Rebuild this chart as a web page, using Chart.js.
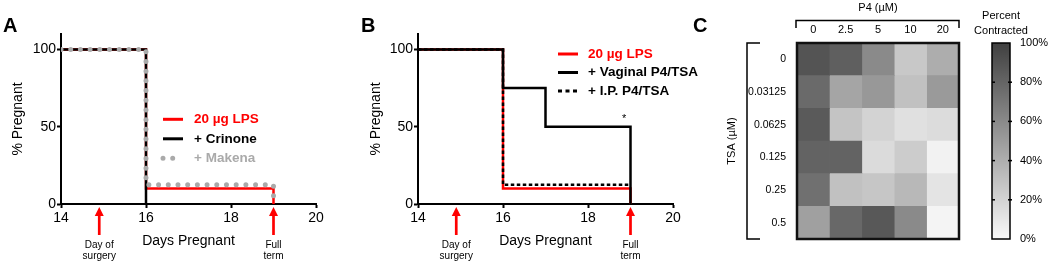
<!DOCTYPE html>
<html><head><meta charset="utf-8">
<script src="https://cdn.jsdelivr.net/npm/chart.js@4.4.1/dist/chart.umd.min.js"></script>
<style>
html,body{margin:0;padding:0;background:#fff;}
body{width:1050px;height:264px;position:relative;overflow:hidden;}
canvas{position:absolute;top:0;}
</style></head><body>
<canvas id="cA" width="340" height="264" style="left:0px;width:340px;height:264px"></canvas>
<canvas id="cB" width="360" height="264" style="left:340px;width:360px;height:264px"></canvas>
<canvas id="cC" width="290" height="264" style="left:690px;width:290px;height:264px"></canvas>
<canvas id="cS" width="85" height="264" style="left:965px;width:85px;height:264px"></canvas>
<script>
// ---------- DATA ----------
const dayTicks = [14, 16, 18, 20];
const pctTicks = [0, 50, 100];
// Panel A
const lpsDaysA = [14, 16, 19];      const lpsPctA = [100, 10, 0];
const crinoneDays = [14, 16];       const crinonePct = [100, 0];
const makenaDays = [14, 16, 19];    const makenaPct = [100, 12.5, 0];
// Panel B
const lpsDaysB = [14, 16, 19];      const lpsPctB = [100, 10, 0];
const vaginalDays = [14, 16, 17, 19]; const vaginalPct = [100, 75, 50, 0];
const ipDays = [14, 16, 19];        const ipPct = [100, 12.5, 12.5];
const surgeryDay = 14.9, fullTermDay = 19;
const sigDay = 18.85, sigPct = 55;
// Panel C
const p4Labels = ['0', '2.5', '5', '10', '20'];
const tsaLabels = ['0', '0.03125', '0.0625', '0.125', '0.25', '0.5'];
const contracted = [
  [89, 83, 60, 26, 41],
  [77, 45, 52, 30, 51],
  [86, 28, 20, 13, 15],
  [81, 81, 16, 24, 3],
  [74, 30, 27, 35, 11],
  [48, 78, 87, 60, 2]
];
const scaleTicks = [0, 20, 40, 60, 80, 100];
const scaleRange = [0, 100];

// ---------- STYLE ----------
const FONT = "'Liberation Sans', Arial, Helvetica, sans-serif";
Chart.defaults.font.family = FONT;
Chart.defaults.color = '#000';
const RED = '#ff0000', GRAY = '#aaaaaa';
const styleLPS = {borderColor: RED, borderWidth: 2.5};
const styleSolid = {borderColor: '#000', borderWidth: 2.5};
const styleMakena = {borderColor: GRAY, borderWidth: 5, borderDash: [0, 9.7], borderCapStyle: 'round'};
const styleIP = {borderColor: '#000', borderWidth: 2.5, borderDash: [3.5, 2.5]};

const pts = (days, pct) => days.map((d, i) => ({x: d, y: pct[i]}));
function lineDs(days, pct, style) {
  return Object.assign({data: pts(days, pct), stepped: true, fill: false, pointRadius: 0,
    borderJoinStyle: 'miter', borderCapStyle: 'butt'}, style);
}
function grayFor(v) {
  const g = Math.round(248 - (248 - 64) * v / 100);
  return `rgb(${g},${g},${g})`;
}
function drawSample(ctx, st, xa, xb, y) {
  ctx.save();
  ctx.strokeStyle = st.borderColor; ctx.lineWidth = st.borderWidth;
  ctx.setLineDash(st.borderDash || []); ctx.lineCap = st.borderCapStyle || 'butt';
  ctx.beginPath(); ctx.moveTo(xa, y); ctx.lineTo(xb, y); ctx.stroke();
  ctx.restore();
}

function survivalDeco(cfg) {
  return {
    id: 'deco',
    afterDraw(chart) {
      const ctx = chart.ctx, xs = chart.scales.x, ys = chart.scales.y, ca = chart.chartArea;
      ctx.save();
      ctx.fillStyle = '#000'; ctx.font = 'bold 20px ' + FONT;
      ctx.textAlign = 'left'; ctx.textBaseline = 'alphabetic';
      ctx.fillText(cfg.letter, cfg.letterX, 32);
      cfg.legend.forEach((it, i) => {
        const y = cfg.legY + i * cfg.legDy;
        drawSample(ctx, it.style, cfg.legX0, it.x1 || cfg.legX1, y);
        ctx.font = 'bold 13.5px ' + FONT; ctx.fillStyle = it.color;
        ctx.textAlign = 'left'; ctx.textBaseline = 'middle';
        ctx.fillText(it.text, cfg.legTX, y);
      });
      [[surgeryDay, ['Day of', 'surgery']], [fullTermDay, ['Full', 'term']]].forEach(([d, lab]) => {
        const x = xs.getPixelForValue(d), b = ca.bottom;
        ctx.strokeStyle = RED; ctx.fillStyle = RED; ctx.lineWidth = 2.7; ctx.setLineDash([]);
        ctx.beginPath(); ctx.moveTo(x, b + 9); ctx.lineTo(x, b + 31); ctx.stroke();
        ctx.beginPath(); ctx.moveTo(x, b + 3); ctx.lineTo(x - 4.5, b + 12); ctx.lineTo(x + 4.5, b + 12); ctx.closePath(); ctx.fill();
        ctx.fillStyle = '#000'; ctx.font = '10px ' + FONT; ctx.textAlign = 'center'; ctx.textBaseline = 'middle';
        lab.forEach((t, k) => ctx.fillText(t, x, b + 41 + k * 11));
      });
      if (cfg.star) {
        ctx.fillStyle = '#000'; ctx.font = '11px ' + FONT; ctx.textAlign = 'center'; ctx.textBaseline = 'middle';
        ctx.fillText('*', xs.getPixelForValue(sigDay), ys.getPixelForValue(sigPct));
      }
      ctx.restore();
    }
  };
}

function survivalChart(id, datasets, o) {
  return new Chart(document.getElementById(id), {
    type: 'line',
    data: {datasets},
    options: {
      responsive: false, animation: false,
      layout: {padding: {top: 34, right: o.padRight, left: 0, bottom: 0}},
      plugins: {legend: {display: false}, tooltip: {enabled: false}},
      scales: {
        x: {
          type: 'linear', min: 14, max: 20,
          afterBuildTicks: s => { s.ticks = dayTicks.map(v => ({value: v})); },
          afterFit: s => { s.height = 60; },
          ticks: {color: '#000', font: {size: 14}, padding: 2, maxRotation: 0},
          grid: {display: true, drawOnChartArea: false, drawTicks: true, tickLength: 4, tickWidth: 2, tickColor: '#000'},
          border: {color: '#000', width: 2},
          title: {display: true, text: 'Days Pregnant', color: '#000', font: {size: 14}, padding: {top: 0, bottom: 14.6}}
        },
        y: {
          type: 'linear', min: 0, max: 110,
          afterBuildTicks: s => { s.ticks = pctTicks.map(v => ({value: v})); },
          afterFit: s => { s.width = o.yWidth; },
          ticks: {color: '#000', font: {size: 14}, padding: 1},
          grid: {display: true, drawOnChartArea: false, drawTicks: true, tickLength: 4, tickWidth: 2, tickColor: '#000'},
          border: {color: '#000', width: 2},
          title: {display: true, text: '% Pregnant', color: '#000', font: {size: 14}, padding: {top: o.yTitlePad, bottom: 0}}
        }
      }
    },
    plugins: [survivalDeco(o.deco)]
  });
}

// Panel A (datasets listed top-most first)
survivalChart('cA', [
  lineDs(makenaDays, makenaPct, styleMakena),
  lineDs(crinoneDays, crinonePct, styleSolid),
  lineDs(lpsDaysA, lpsPctA, styleLPS)
], {padRight: 24, yWidth: 61, yTitlePad: 10.1, deco: {
  letter: 'A', letterX: 3, legX0: 163, legX1: 183, legTX: 194, legY: 119.3, legDy: 19.5, star: false,
  legend: [
    {style: {borderColor: RED, borderWidth: 3}, text: '20 µg LPS', color: RED},
    {style: {borderColor: '#000', borderWidth: 3}, text: '+ Crinone', color: '#000'},
    {style: styleMakena, text: '+ Makena', color: GRAY, x1: 176}
  ]}});

// Panel B
survivalChart('cB', [
  lineDs(vaginalDays, vaginalPct, styleSolid),
  lineDs(ipDays, ipPct, styleIP),
  lineDs(lpsDaysB, lpsPctB, styleLPS)
], {padRight: 27, yWidth: 78, yTitlePad: 27.6, deco: {
  letter: 'B', letterX: 21, legX0: 218, legX1: 238, legTX: 248, legY: 54, legDy: 18.5, star: true,
  legend: [
    {style: {borderColor: RED, borderWidth: 3}, text: '20 µg LPS', color: RED},
    {style: {borderColor: '#000', borderWidth: 3}, text: '+ Vaginal P4/TSA', color: '#000'},
    {style: {borderColor: '#000', borderWidth: 3, borderDash: [4, 3.5]}, text: '+ I.P. P4/TSA', color: '#000'}
  ]}});

// Panel C heatmap
const heatDeco = {
  id: 'heatDeco',
  afterDraw(chart) {
    const ctx = chart.ctx, ca = chart.chartArea;
    ctx.save();
    ctx.strokeStyle = '#111'; ctx.lineWidth = 2.5; ctx.setLineDash([]);
    ctx.strokeRect(ca.left, ca.top, ca.right - ca.left, ca.bottom - ca.top);
    ctx.lineWidth = 1.5; ctx.strokeStyle = '#000';
    const ty = ca.top - 22.5;
    ctx.beginPath(); ctx.moveTo(ca.left - 1, ty + 7.5); ctx.lineTo(ca.left - 1, ty); ctx.lineTo(ca.right, ty); ctx.lineTo(ca.right, ty + 7.5); ctx.stroke();
    const lx = ca.left - 50;
    ctx.beginPath(); ctx.moveTo(lx + 13, ca.top); ctx.lineTo(lx, ca.top); ctx.lineTo(lx, ca.bottom); ctx.lineTo(lx + 13, ca.bottom); ctx.stroke();
    ctx.fillStyle = '#000'; ctx.font = 'bold 20px ' + FONT; ctx.textAlign = 'left'; ctx.textBaseline = 'alphabetic';
    ctx.fillText('C', 3, 32);
    ctx.restore();
  }
};
new Chart(document.getElementById('cC'), {
  type: 'bar',
  data: {
    labels: tsaLabels,
    datasets: p4Labels.map((p, j) => ({
      label: p, xAxisID: 'x', yAxisID: 'y',
      data: tsaLabels.map(() => 1),
      backgroundColor: contracted.map(row => grayFor(row[j])),
      borderWidth: 0, barPercentage: 1, categoryPercentage: 1
    }))
  },
  options: {
    indexAxis: 'y', responsive: false, animation: false,
    layout: {padding: {top: 0, bottom: 25, left: 0, right: 21}},
    plugins: {legend: {display: false}, tooltip: {enabled: false}},
    scales: {
      x: {type: 'linear', stacked: true, min: 0, max: p4Labels.length, display: false},
      x2: {
        type: 'category', labels: p4Labels, position: 'top', offset: true,
        grid: {display: false, drawTicks: false}, border: {display: false},
        ticks: {color: '#000', font: {size: 11}, padding: 6.4},
        title: {display: true, text: 'P4 (µM)', color: '#000', font: {size: 11}, padding: {top: 1.4, bottom: 0}},
        afterFit: s => { s.height = 43; }
      },
      y: {
        type: 'category', stacked: true, offset: true,
        grid: {display: false, drawTicks: false}, border: {display: false},
        ticks: {color: '#000', font: {size: 10.5}, padding: 11},
        title: {display: true, text: 'TSA (µM)', color: '#000', font: {size: 11}, padding: {top: 35.4, bottom: 0}},
        afterFit: s => { s.width = 107; }
      }
    }
  },
  plugins: [heatDeco]
});

// Colour scale bar
const scaleDeco = {
  id: 'scaleDeco',
  afterDraw(chart) {
    const ctx = chart.ctx, ca = chart.chartArea, ys = chart.scales.y;
    ctx.save();
    ctx.strokeStyle = '#000'; ctx.lineWidth = 1.5;
    ctx.strokeRect(ca.left, ca.top, ca.right - ca.left, ca.bottom - ca.top);
    ctx.lineWidth = 1.5;
    scaleTicks.slice(1, -1).forEach(v => {
      const y = ys.getPixelForValue(v);
      ctx.beginPath(); ctx.moveTo(ca.left, y); ctx.lineTo(ca.left + 3, y); ctx.stroke();
      ctx.beginPath(); ctx.moveTo(ca.right - 2, y); ctx.lineTo(ca.right + 2, y); ctx.stroke();
    });
    ctx.fillStyle = '#000'; ctx.font = '11px ' + FONT; ctx.textAlign = 'center'; ctx.textBaseline = 'middle';
    const cx = (ca.left + ca.right) / 2;
    ctx.fillText('Percent', cx, 16);
    ctx.fillText('Contracted', cx, 31);
    ctx.restore();
  }
};
new Chart(document.getElementById('cS'), {
  type: 'bar',
  data: {
    labels: [''],
    datasets: [{
      data: [scaleRange],
      borderWidth: 0, barPercentage: 1, categoryPercentage: 1,
      backgroundColor: (c) => {
        const ca = c.chart.chartArea;
        if (!ca) return '#999';
        const g = c.chart.ctx.createLinearGradient(0, ca.bottom, 0, ca.top);
        g.addColorStop(0, grayFor(0));
        g.addColorStop(1, grayFor(100));
        return g;
      }
    }]
  },
  options: {
    responsive: false, animation: false,
    layout: {padding: {top: 43, bottom: 25, left: 27, right: 0}},
    plugins: {legend: {display: false}, tooltip: {enabled: false}},
    scales: {
      x: {display: false},
      y: {
        position: 'right', min: 0, max: 100,
        afterBuildTicks: s => { s.ticks = scaleTicks.map(v => ({value: v})); },
        afterFit: s => { s.width = 40; },
        grid: {display: false, drawTicks: false}, border: {display: false},
        ticks: {color: '#000', font: {size: 11}, padding: 10, callback: v => v + '%'}
      }
    }
  },
  plugins: [scaleDeco]
});
</script>
</body></html>
